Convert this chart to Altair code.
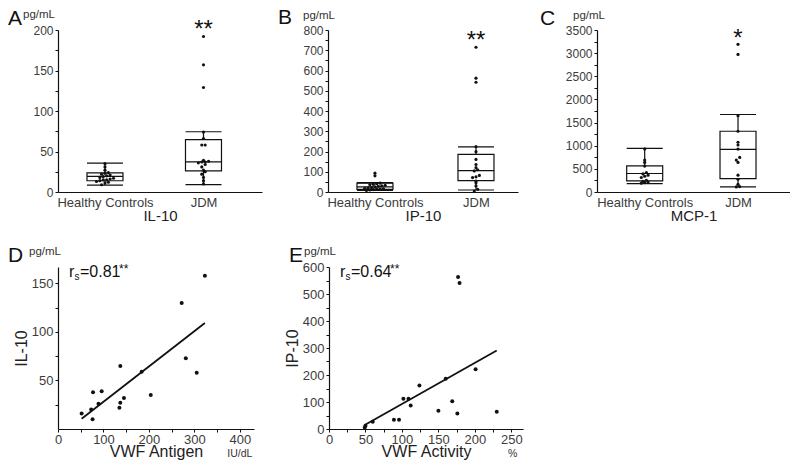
import altair as alt
import pandas as pd

FONT = "Liberation Sans"
INK = "#111111"
LABEL = "#3c3c3c"

# ---------------- data ----------------
groups = ["Healthy Controls", "JDM"]

# A: IL-10 (pg/mL)
il10_hc = [9, 11, 12, 13, 14, 15, 15, 16, 17, 18, 19, 20, 21, 22, 23, 24, 27, 31, 35]
il10_jdm = [10, 14, 18, 22, 25, 27, 31, 34, 36, 37, 37, 38, 39, 58, 58, 66, 74, 129, 157, 192]
il10_lo = [8.6, 9.0]
il10_q1 = [13.9, 26.2]
il10_med = [19.2, 37.2]
il10_q3 = [23.7, 64.6]
il10_hi = [35.6, 74.4]

# B: IP-10 (pg/mL)
ip10_hc = [8, 10, 12, 14, 15, 16, 18, 20, 22, 25, 28, 30, 33, 36, 38, 41, 44, 80, 93]
ip10_jdm = [5, 13, 30, 46, 54, 71, 75, 82, 104, 110, 120, 136, 161, 199, 224, 542, 562, 715]
ip10_lo = [8, 10]
ip10_q1 = [13, 56]
ip10_med = [25, 106]
ip10_q3 = [44, 186]
ip10_hi = [46, 223]

# C: MCP-1 (pg/mL)
mcp1_hc = [190, 204, 215, 230, 254, 313, 340, 363, 390, 422, 560, 639, 689, 930]
mcp1_jdm = [109, 117, 167, 276, 363, 639, 689, 748, 928, 1015, 1074, 1313, 1650, 2972, 3190]
mcp1_lo = [183, 109]
mcp1_q1 = [239, 291]
mcp1_med = [400, 922]
mcp1_q3 = [565, 1313]
mcp1_hi = [943, 1674]

# D: VWF antigen (IU/dL) vs IL-10
vwf_antigen = [323, 272, 281, 305, 137, 184, 204, 77, 96, 89, 145, 137, 135, 73, 52, 76]
il10_scatter = [158, 130, 73, 58, 65, 59, 35, 38, 39, 26, 32, 27, 22, 20, 16, 10]

# E: VWF activity (%) vs IP-10
vwf_activity = [177, 179, 201, 160, 124, 102, 109, 112, 169, 150, 176, 230, 89, 96, 60, 50, 49]
ip10_scatter = [563, 541, 221, 186, 161, 112, 112, 87, 103, 68, 57, 64, 34, 34, 27, 12, 6]

ONE = alt.Data(values=[{"a": 1}])
PANEL_H = 162


def axis(**kw):
    base = dict(domainColor=INK, domainWidth=1.2, tickColor=INK, tickWidth=1, tickSize=3,
                labelColor=LABEL, labelFont=FONT, labelFontSize=12, labelPadding=2,
                grid=False, labelFlush=False, labelOverlap=False,
                titleFont=FONT, titleColor="#222222", titleFontWeight="normal")
    base.update(kw)
    return alt.Axis(**base)


def txt(text, x, y, size, align="left", color=INK):
    return alt.Chart(ONE).mark_text(text=text, fontSize=size, align=align, baseline="alphabetic",
                                    color=color, font=FONT).encode(x=alt.value(x), y=alt.value(y))


def box_panel(hc, jdm, lo, q1, med, q3, hi, ymax, ystep, ylab, xdom, W, title,
              letter, letter_xy, unit_xy, stars, stars_y, binv):
    H = PANEL_H
    step_px = W / (xdom[1] - xdom[0])
    hw = 18 / step_px
    dxu = 3.4 / step_px
    pts = pd.DataFrame({"gi": [0] * len(hc) + [1] * len(jdm), "v": hc + jdm})
    box = pd.DataFrame({"gi": [0, 1], "lo": lo, "q1": q1, "med": med, "q3": q3, "hi": hi})
    xs = alt.Scale(domain=xdom, nice=False, zero=False)
    ys = alt.Scale(domain=[0, ymax], nice=False)
    xax = axis(values=[0, 1], labelExpr="datum.value == 0 ? 'Healthy Controls' : 'JDM'",
               ticks=False, title=title, labelFontSize=13, labelPadding=4,
               titleFontSize=15, titlePadding=-1)
    yax = axis(values=list(range(0, ymax + 1, ystep)),
               labelExpr=f"datum.value % {ylab} == 0 ? datum.label : ''", title=None, format="d")

    def X(f):
        return alt.X(f, type="quantitative", scale=xs, axis=xax)

    def Y(f):
        return alt.Y(f, type="quantitative", scale=ys, axis=yax)

    base = alt.Chart(box).transform_calculate(xl=f"datum.gi - {hw}", xr=f"datum.gi + {hw}")
    rule = dict(color=INK, strokeWidth=1.2)
    w_lo = base.mark_rule(**rule).encode(x=X("gi"), y=Y("lo"), y2="q1:Q")
    w_hi = base.mark_rule(**rule).encode(x=X("gi"), y=Y("q3"), y2="hi:Q")
    rect = base.mark_rect(fill="white", stroke=INK, strokeWidth=1.2).encode(
        x=X("xl"), x2="xr:Q", y=Y("q1"), y2="q3:Q")
    medl = base.mark_rule(**rule).encode(x=X("xl"), x2="xr:Q", y=Y("med"))
    cap_lo = base.mark_rule(**rule).encode(x=X("xl"), x2="xr:Q", y=Y("lo"))
    cap_hi = base.mark_rule(**rule).encode(x=X("xl"), x2="xr:Q", y=Y("hi"))
    dots = (alt.Chart(pts)
            .transform_calculate(b=f"floor(datum.v / {binv})")
            .transform_window(rk="row_number()", groupby=["gi", "b"])
            .transform_joinaggregate(cnt="count()", groupby=["gi", "b"])
            .transform_calculate(xj=f"datum.gi + (datum.rk - (datum.cnt + 1) / 2) * {dxu}")
            .mark_circle(size=10, color=INK, opacity=1)
            .encode(x=X("xj"), y=Y("v")))
    star = alt.Chart(ONE).mark_text(text=stars, fontSize=24, align="center", baseline="alphabetic",
                                    color=INK, font=FONT).encode(
        x=alt.X(datum=1, type="quantitative", scale=xs, axis=xax), y=alt.value(stars_y))
    return alt.layer(w_lo, w_hi, rect, medl, cap_lo, cap_hi, dots,
                     txt(letter, letter_xy[0], letter_xy[1], 21),
                     txt("pg/mL", unit_xy[0], unit_xy[1], 11.5, color="#333333"),
                     star).properties(width=W, height=H)


def scatter_panel(xv, yv, xmax, ymax, xvals, xlab, yvals, ylab, xtitle, ytitle,
                  W, letter, letter_xy, unit_xy, rtext, xunit, xunit_at):
    H = PANEL_H
    df = pd.DataFrame({"x": xv, "y": yv})
    xs = alt.Scale(domain=[0, xmax], nice=False, zero=False)
    ys = alt.Scale(domain=[0, ymax], nice=False)
    xax = axis(values=xvals, labelExpr=f"datum.value % {xlab} == 0 ? datum.label : ''",
               title=xtitle, labelFontSize=13, titleFontSize=16, titlePadding=-3, labelPadding=1)
    yax = axis(values=yvals, labelExpr=f"datum.value % {ylab} == 0 ? datum.label : ''",
               title=ytitle, labelFontSize=13, titleFontSize=16, titlePadding=2)
    X = alt.X("x:Q", scale=xs, axis=xax)
    Y = alt.Y("y:Q", scale=ys, axis=yax)
    pts = alt.Chart(df).mark_circle(size=16, color=INK, opacity=1).encode(x=X, y=Y)
    fit = alt.Chart(df).transform_regression("x", "y").mark_line(color=INK, strokeWidth=1.8).encode(x=X, y=Y)
    unit = alt.Chart(ONE).mark_text(text=xunit, fontSize=10.5, align="center", baseline="alphabetic",
                                    color="#333333", font=FONT).encode(
        x=alt.X(datum=xunit_at, type="quantitative", scale=xs, axis=xax), y=alt.value(H + 28))
    return alt.layer(fit, pts,
                     txt(letter, letter_xy[0], letter_xy[1], 21),
                     txt("pg/mL", unit_xy[0], unit_xy[1], 11.5, color="#333333"),
                     txt("r", 11, 10, 16),
                     txt("s", 16.5, 13, 10),
                     txt(rtext, 22, 10, 16),
                     txt("**", 22 + 0.53 * 16 * len(rtext) * 0.92, 6, 12),
                     unit).properties(width=W, height=H)


pA = box_panel(il10_hc, il10_jdm, il10_lo, il10_q1, il10_med, il10_q3, il10_hi,
               200, 25, 50, [-0.477, 1.594], 204, "IL-10", "A", (-50, -5), (-35, -12), "**", 7, 4.3)
pB = box_panel(ip10_hc, ip10_jdm, ip10_lo, ip10_q1, ip10_med, ip10_q3, ip10_hi,
               800, 50, 100, [-0.465, 1.416], 190, "IP-10", "B", (-50, -6), (-25, -11.5), "**", 18, 17)
pC = box_panel(mcp1_hc, mcp1_jdm, mcp1_lo, mcp1_q1, mcp1_med, mcp1_q3, mcp1_hi,
               3500, 250, 500, [-0.511, 1.557], 193, "MCP-1", "C", (-57, -5), (-24, -11.5), "*", 16, 76)

pD = scatter_panel(vwf_antigen, il10_scatter, 431, 167, list(range(0, 401, 50)), 100,
                   list(range(25, 151, 25)), 50, "VWF Antigen", "IL-10", 196,
                   "D", (-50, -5), (-29, -12), "=0.81", "IU/dL", 400)
pE = scatter_panel(vwf_activity, ip10_scatter, 266, 600, list(range(0, 251, 25)), 50,
                   list(range(0, 601, 50)), 100, "VWF Activity", "IP-10", 194,
                   "E", (-40, -5), (-25, -12), "=0.64", "%", 252)

top = alt.hconcat(pA, alt.hconcat(pB, pC, spacing=79, bounds="flush"), spacing=66, bounds="flush")
bottom = alt.hconcat(pD, pE, spacing=75, bounds="flush")
# with flush bounds the nested row contributes no height of its own, so the
# spacing spans one panel height plus the 75px gap between the rows
chart = (alt.vconcat(top, bottom, spacing=PANEL_H + 75, bounds="flush")
         .properties(padding={"top": -1, "left": 0, "right": 0, "bottom": 0})
         .configure(font=FONT)
         .configure_view(stroke=None))

chart.save("out.html", embed_options={"renderer": "svg", "actions": False})
